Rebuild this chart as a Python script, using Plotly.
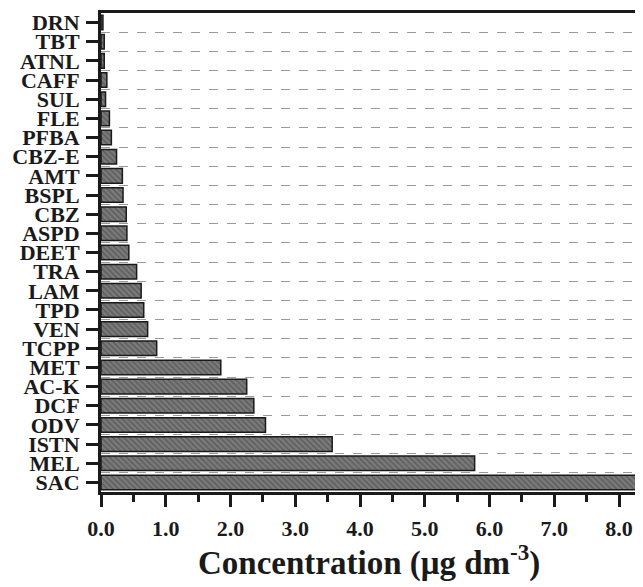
import plotly.graph_objects as go

categories = ["SAC", "MEL", "ISTN", "ODV", "DCF", "AC-K", "MET", "TCPP", "VEN", "TPD",
              "LAM", "TRA", "DEET", "ASPD", "CBZ", "BSPL", "AMT", "CBZ-E", "PFBA", "FLE",
              "SUL", "CAFF", "ATNL", "TBT", "DRN"]
values = [8.6, 5.77, 3.57, 2.54, 2.36, 2.25, 1.85, 0.86, 0.72, 0.66,
          0.62, 0.55, 0.43, 0.40, 0.39, 0.34, 0.33, 0.24, 0.16, 0.13,
          0.07, 0.09, 0.05, 0.05, 0.03]
xticks = [0, 1, 2, 3, 4, 5, 6, 7, 8]

pos = list(range(len(categories)))
font = dict(family="Liberation Serif, Times New Roman, serif", color="#1a1a1a", weight="bold")

fig = go.Figure(go.Bar(
    x=values, y=pos, orientation="h", width=0.76,
    marker=dict(color="#6e6e6e", line=dict(color="#1a1a1a", width=1.5),
                pattern=dict(shape="\\", fgcolor="#3a3a3a", bgcolor="#7a7a7a", size=4, solidity=0.35)),
))

# page body has an 8px margin: the figure is sized to end at the window's edges
fig.update_layout(
    width=635, height=579,
    margin=dict(l=93, r=0, t=5, b=95),
    plot_bgcolor="white", paper_bgcolor="white",
    showlegend=False,
    font=dict(**font, size=22),
    annotations=[dict(text="Concentration (μg dm<sup>-3</sup>)", xref="paper", yref="paper",
                      x=0.495, y=-0.142, xanchor="center", yanchor="middle", showarrow=False,
                      font=dict(**font, size=33))],
)
fig.update_xaxes(
    automargin=False,
    range=[0, 8.37], tickvals=xticks, ticktext=[f"{v:.1f}" for v in xticks],
    showgrid=False, zeroline=False,
    showline=True, linewidth=3, linecolor="#1a1a1a", mirror=True,
    ticks="outside", ticklen=12, tickwidth=2.5, tickcolor="#1a1a1a",
    ticklabelstandoff=3,
    minor=dict(dtick=0.5, ticks="outside", ticklen=7, tickwidth=2.5, tickcolor="#1a1a1a", showgrid=False),
    tickfont=dict(**font, size=22),
)
fig.update_yaxes(
    automargin=False,
    range=[-0.5, len(categories) - 0.5], tickvals=pos, ticktext=categories,
    showgrid=False, zeroline=False,
    showline=True, linewidth=3, linecolor="#1a1a1a",
    ticks="outside", ticklen=12, tickwidth=2.5, tickcolor="#1a1a1a",
    ticklabelstandoff=2,
    tickfont=dict(**font, size=22),
    minor=dict(tickvals=[p + 0.5 for p in pos[:-1]], ticks="", showgrid=True,
               gridcolor="#9a9a9a", griddash="dash", gridwidth=1),
)
fig.write_html("out.html")
